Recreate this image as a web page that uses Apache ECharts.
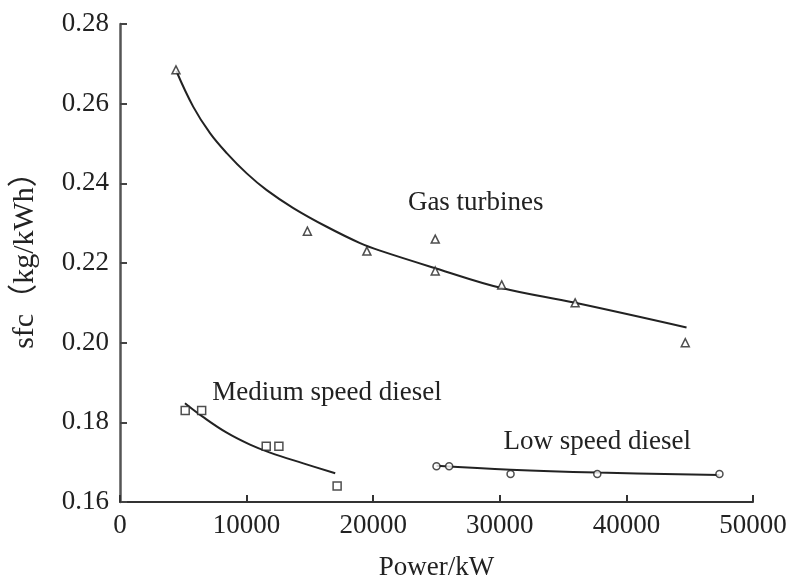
<!DOCTYPE html>
<html>
<head>
<meta charset="utf-8">
<title>sfc vs power</title>
<script src="https://cdn.jsdelivr.net/npm/echarts@6/dist/echarts.min.js"></script>
<style>
  html, body { margin: 0; padding: 0; background: #fff; }
  #chart { width: 794px; height: 588px; }
</style>
</head>
<body>
<div id="chart"></div>
<script>
// Measured specific fuel consumption (kg/kWh) against installed power (kW)
const gasPower = [4420, 14800, 19500, 24900, 24900, 30150, 35950, 44650];
const gasSfc   = [0.2685, 0.228, 0.223, 0.226, 0.218, 0.2145, 0.210, 0.200];

const mediumPower = [5150, 6450, 11550, 12550, 17150];
const mediumSfc   = [0.183, 0.183, 0.174, 0.174, 0.164];

const lowPower = [25000, 26000, 30850, 37700, 47350];
const lowSfc   = [0.169, 0.169, 0.167, 0.167, 0.167];

// Fitted trend curves, sampled along each drawn fit line
const gasFitPower = [4450, 5790, 7110, 8430, 10010, 11590, 13690, 16330, 18960, 20540, 24900, 30150, 35950, 44750];
const gasFitSfc   = [0.2682, 0.2592, 0.2526, 0.2476, 0.2425, 0.2383, 0.2338, 0.2291, 0.2250, 0.2231, 0.2187, 0.2137, 0.2100, 0.2038];

const mediumFitPower = [5130, 6580, 8430, 10270, 11850, 14480, 17000];
const mediumFitSfc   = [0.1848, 0.1813, 0.1774, 0.1744, 0.1724, 0.1697, 0.1672];

const lowFitPower = [25000, 30850, 37700, 47350];
const lowFitSfc   = [0.1691, 0.1681, 0.1674, 0.1668];

// Tick values
const xTicks = [0, 10000, 20000, 30000, 40000, 50000];
const yTicks = [0.16, 0.18, 0.20, 0.22, 0.24, 0.26, 0.28];

// Group captions and where they sit in data space
const captions = ['Gas turbines', 'Medium speed diesel', 'Low speed diesel'];
const captionPower = [28100, 16350, 37700];
const captionSfc = [0.2350, 0.1873, 0.1750];

const zip = (xs, ys) => xs.map((x, i) => [x, ys[i]]);

const serif = '"Liberation Serif", "Times New Roman", "Noto Sans CJK SC", serif';
const ink = '#222';

const markerStyle = { color: '#fff', borderColor: ink, borderWidth: 1.5 };

function fitLine(name, xs, ys) {
  return {
    name: name,
    type: 'line',
    data: zip(xs, ys),
    smooth: 0.4,
    showSymbol: false,
    symbol: 'none',
    lineStyle: { color: ink, width: 2 },
    z: 2,
    silent: true
  };
}

function points(name, xs, ys, symbol, size) {
  return {
    name: name,
    type: 'scatter',
    data: zip(xs, ys),
    symbol: symbol,
    symbolSize: size,
    itemStyle: markerStyle,
    z: 3
  };
}

const chart = echarts.init(document.getElementById('chart'), null, { renderer: 'canvas' });

chart.setOption({
  animation: false,
  backgroundColor: '#fff',
  grid: { left: 120, right: 41, top: 24, bottom: 86, containLabel: false },
  xAxis: {
    type: 'value',
    min: xTicks[0],
    max: xTicks[xTicks.length - 1],
    interval: xTicks[1] - xTicks[0],
    name: 'Power/kW',
    nameLocation: 'middle',
    nameGap: 52,
    nameTextStyle: { fontFamily: serif, fontSize: 27, color: ink },
    axisLine: { show: true, onZero: false, lineStyle: { color: '#333', width: 2 } },
    axisTick: { show: true, inside: true, length: 7, lineStyle: { color: '#333', width: 2 } },
    axisLabel: { fontFamily: serif, fontSize: 27, color: ink, margin: 10, formatter: v => String(v) },
    splitLine: { show: false }
  },
  yAxis: {
    type: 'value',
    min: yTicks[0],
    max: yTicks[yTicks.length - 1],
    interval: 0.02,
    name: 'sfc（kg/kWh）',
    nameLocation: 'middle',
    nameGap: 80,
    nameRotate: 90,
    nameTextStyle: { fontFamily: serif, fontSize: 30, color: ink, padding: [0, 0, 0, 20] },
    axisLine: { show: true, onZero: false, lineStyle: { color: '#555', width: 2.5 } },
    axisTick: { show: true, inside: true, length: 7, lineStyle: { color: '#444', width: 2 } },
    axisLabel: {
      fontFamily: serif, fontSize: 27, color: ink, margin: 11,
      formatter: v => v.toFixed(2)
    },
    splitLine: { show: false }
  },
  series: [
    fitLine('Gas turbines fit', gasFitPower, gasFitSfc),
    fitLine('Medium speed diesel fit', mediumFitPower, mediumFitSfc),
    fitLine('Low speed diesel fit', lowFitPower, lowFitSfc),
    points('Gas turbines', gasPower, gasSfc, 'triangle', 8),
    points('Medium speed diesel', mediumPower, mediumSfc, 'rect', 8),
    points('Low speed diesel', lowPower, lowSfc, 'circle', 7),
    {
      name: 'captions',
      type: 'scatter',
      data: [],
      silent: true,
      markPoint: {
        symbol: 'circle',
        symbolSize: 0,
        silent: true,
        label: {
          show: true,
          position: 'inside',
          fontFamily: serif,
          fontSize: 27,
          color: ink,
          formatter: p => p.name
        },
        data: captions.map((c, i) => ({ name: c, coord: [captionPower[i], captionSfc[i]] }))
      }
    }
  ]
});
</script>
</body>
</html>
